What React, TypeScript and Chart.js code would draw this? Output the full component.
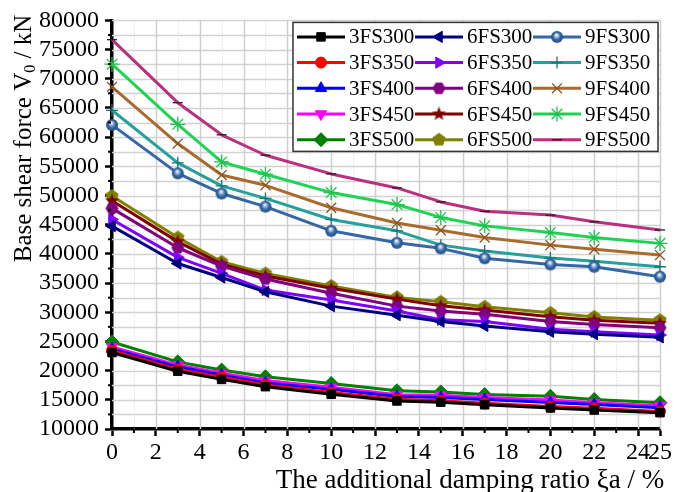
import React, { useEffect, useRef } from 'react';
import { Chart, registerables } from 'chart.js';
import { drawPoint } from 'chart.js/helpers';

Chart.register(...registerables);

const FONT = '"Liberation Serif", "Times New Roman", Times, serif';

const damping = [0, 3, 5, 7, 10, 13, 15, 17, 20, 22, 25];

const fs3_300 = [23100, 19900, 18500, 17250, 15950, 14800, 14600, 14150, 13600, 13250, 12800];
const fs3_350 = [23400, 20200, 18850, 17550, 16250, 15100, 14850, 14400, 13850, 13550, 13000];
const fs3_400 = [23700, 20650, 19250, 17900, 16800, 15550, 15400, 15050, 14550, 14200, 13650];
const fs3_450 = [24050, 20950, 19550, 18300, 17150, 15850, 15800, 15400, 14950, 14500, 14000];
const fs3_500 = [24900, 21500, 20100, 18950, 17800, 16550, 16350, 15900, 15600, 15050, 14500];

const fs6_300 = [44750, 38350, 35950, 33500, 31050, 29500, 28400, 27650, 26650, 26250, 25700];
const fs6_350 = [45900, 39400, 36650, 33800, 32100, 30200, 28700, 28400, 27100, 26650, 26100];
const fs6_400 = [47800, 41050, 37900, 35700, 33250, 31050, 30200, 29650, 28400, 27900, 27350];
const fs6_450 = [49100, 42100, 38250, 36200, 34100, 32250, 31100, 30400, 29250, 28650, 28100];
const fs6_500 = [49900, 42800, 38650, 36650, 34500, 32550, 31800, 30950, 29900, 29200, 28650];

const fs9_300 = [62100, 53800, 50350, 48100, 43950, 41900, 40950, 39250, 38200, 37800, 36100];
const fs9_350 = [64600, 55600, 51650, 49500, 45900, 43950, 41500, 40500, 39300, 38750, 37800];
const fs9_400 = [68600, 58900, 53500, 51750, 47900, 45300, 44050, 42800, 41500, 40800, 39800];
const fs9_450 = [72500, 62200, 55750, 53650, 50500, 48450, 46250, 44800, 43650, 42800, 41800];
const fs9_500 = [76700, 65900, 60400, 56900, 53700, 51300, 48900, 47300, 46650, 45500, 44100];

const seriesNames = [
  '3FS300', '3FS350', '3FS400', '3FS450', '3FS500',
  '6FS300', '6FS350', '6FS400', '6FS450', '6FS500',
  '9FS300', '9FS350', '9FS400', '9FS450', '9FS500',
];
const seriesValues = [
  fs3_300, fs3_350, fs3_400, fs3_450, fs3_500,
  fs6_300, fs6_350, fs6_400, fs6_450, fs6_500,
  fs9_300, fs9_350, fs9_400, fs9_450, fs9_500,
];
const seriesColors = [
  '#000000', '#ff0000', '#0000ff', '#ff00ff', '#008000',
  '#000080', '#8000ff', '#800080', '#800000', '#808000',
  '#3467a5', '#26a09a', '#a86b2d', '#1fd455', '#b8307e',
];

const xTitle = 'The additional damping ratio ξa / %';
const yTitleParts = ['Base shear force V', '0', ' / kN'];

const xTickLabels = (v: number) => (v % 2 === 0 || v === 25 ? String(v) : '');
const yTickLabels = (v: number) => (v % 5000 === 0 ? String(v) : '');

function makeCanvas(r: number) {
  const c = document.createElement('canvas');
  const s = Math.ceil(r * 2 + 2);
  c.width = s;
  c.height = s;
  return c;
}

function polygonMarker(n: number, r: number, color: string, rot: number) {
  const c = makeCanvas(r);
  const ctx = c.getContext('2d')!;
  const cx = c.width / 2;
  const cy = c.height / 2;
  ctx.beginPath();
  for (let i = 0; i < n; i++) {
    const a = rot + (i * 2 * Math.PI) / n;
    const x = cx + r * Math.cos(a);
    const y = cy + r * Math.sin(a);
    if (i === 0) ctx.moveTo(x, y);
    else ctx.lineTo(x, y);
  }
  ctx.closePath();
  ctx.fillStyle = color;
  ctx.fill();
  return c;
}

function starMarker(r: number, color: string) {
  const c = makeCanvas(r);
  const ctx = c.getContext('2d')!;
  const cx = c.width / 2;
  const cy = c.height / 2;
  ctx.beginPath();
  for (let i = 0; i < 10; i++) {
    const rr = i % 2 === 0 ? r : r * 0.42;
    const a = -Math.PI / 2 + (i * Math.PI) / 5;
    const x = cx + rr * Math.cos(a);
    const y = cy + rr * Math.sin(a);
    if (i === 0) ctx.moveTo(x, y);
    else ctx.lineTo(x, y);
  }
  ctx.closePath();
  ctx.fillStyle = color;
  ctx.fill();
  return c;
}

function sphereMarker(r: number, color: string) {
  const c = makeCanvas(r);
  const ctx = c.getContext('2d')!;
  const cx = c.width / 2;
  const cy = c.height / 2;
  const g = ctx.createRadialGradient(cx - r * 0.1, cy - r * 0.35, r * 0.05, cx, cy, r);
  g.addColorStop(0, '#ffffff');
  g.addColorStop(0.3, '#8fb0d8');
  g.addColorStop(0.6, color);
  g.addColorStop(1, '#234f85');
  ctx.beginPath();
  ctx.arc(cx, cy, r, 0, Math.PI * 2);
  ctx.fillStyle = g;
  ctx.fill();
  return c;
}

type Mk = { style: any; radius: number; rotation: number; border: string; borderWidth: number };

function markerFor(i: number): Mk {
  const col = seriesColors[i];
  switch (i) {
    case 0: return { style: 'rect', radius: 6, rotation: 0, border: col, borderWidth: 1 };
    case 1: return { style: 'circle', radius: 5.5, rotation: 0, border: col, borderWidth: 1 };
    case 2: return { style: 'triangle', radius: 6.5, rotation: 0, border: col, borderWidth: 1 };
    case 3: return { style: 'triangle', radius: 6.5, rotation: 180, border: col, borderWidth: 1 };
    case 4: return { style: 'rectRot', radius: 7, rotation: 0, border: col, borderWidth: 1 };
    case 5: return { style: 'triangle', radius: 6.5, rotation: -90, border: col, borderWidth: 1 };
    case 6: return { style: 'triangle', radius: 6.5, rotation: 90, border: col, borderWidth: 1 };
    case 7: return { style: polygonMarker(6, 6.5, col, 0), radius: 6.5, rotation: 0, border: col, borderWidth: 0 };
    case 8: return { style: starMarker(7.5, col), radius: 7.5, rotation: 0, border: col, borderWidth: 0 };
    case 9: return { style: polygonMarker(5, 7, col, -Math.PI / 2), radius: 7, rotation: 0, border: col, borderWidth: 0 };
    case 10: return { style: sphereMarker(6, col), radius: 6, rotation: 0, border: col, borderWidth: 0 };
    case 11: return { style: 'cross', radius: 6, rotation: 0, border: '#137a76', borderWidth: 1.3 };
    case 12: return { style: 'crossRot', radius: 7, rotation: 0, border: '#8c5420', borderWidth: 1.3 };
    case 13: return { style: 'star', radius: 7.5, rotation: 0, border: '#1fc34e', borderWidth: 1.3 };
    default: return { style: 'line', radius: 5, rotation: 0, border: '#222222', borderWidth: 1.3 };
  }
}

const gridPlugin = {
  id: 'customGrid',
  beforeDatasetsDraw(chart: any) {
    const { ctx, chartArea, scales } = chart;
    const xs = scales.x;
    const ys = scales.y;
    ctx.save();
    for (let v = 12500; v <= 80000; v += 2500) {
      const y = Math.round(ys.getPixelForValue(v)) + 0.5;
      ctx.beginPath();
      ctx.strokeStyle = '#d2d2d2';
      ctx.lineWidth = 1.5;
      ctx.setLineDash([]);
      ctx.moveTo(chartArea.left, y);
      ctx.lineTo(chartArea.right, y);
      ctx.stroke();
    }
    for (let v = 1; v <= 25; v++) {
      const x = Math.round(xs.getPixelForValue(v)) + 0.5;
      ctx.beginPath();
      if (v % 2 === 0 || v === 25) {
        ctx.strokeStyle = '#cfcfcf';
        ctx.lineWidth = 1.5;
        ctx.setLineDash([]);
      } else {
        ctx.strokeStyle = '#d4d4d4';
        ctx.lineWidth = 1;
        ctx.setLineDash([1, 2]);
      }
      ctx.moveTo(x, chartArea.top);
      ctx.lineTo(x, chartArea.bottom);
      ctx.stroke();
    }
    ctx.restore();
  },
};

const overlayPlugin = {
  id: 'overlay',
  afterDraw(chart: any) {
    const { ctx, chartArea, scales } = chart;
    const xs = scales.x;
    const ys = scales.y;
    ctx.save();
    ctx.strokeStyle = '#000';
    ctx.lineWidth = 2;
    ctx.setLineDash([]);
    for (let v = 1; v < 25; v += 2) {
      const x = xs.getPixelForValue(v);
      ctx.beginPath();
      ctx.moveTo(x, chartArea.bottom + 1);
      ctx.lineTo(x, chartArea.bottom + 4);
      ctx.stroke();
    }
    for (let v = 12500; v < 80000; v += 5000) {
      const y = ys.getPixelForValue(v);
      ctx.beginPath();
      ctx.moveTo(chartArea.left - 1, y);
      ctx.lineTo(chartArea.left - 4, y);
      ctx.stroke();
    }

    // axis titles
    ctx.fillStyle = '#000';
    ctx.font = `27px ${FONT}`;
    ctx.textAlign = 'center';
    ctx.textBaseline = 'alphabetic';
    ctx.fillText(xTitle, 470, 488);

    ctx.save();
    ctx.translate(31, 138.5);
    ctx.rotate(-Math.PI / 2);
    ctx.textAlign = 'left';
    const big = `25px ${FONT}`;
    const small = `16px ${FONT}`;
    ctx.font = big;
    const w1 = ctx.measureText(yTitleParts[0]).width;
    const w3 = ctx.measureText(yTitleParts[2]).width;
    ctx.font = small;
    const w2 = ctx.measureText(yTitleParts[1]).width;
    let sx = -(w1 + w2 + w3) / 2;
    ctx.font = big;
    ctx.fillText(yTitleParts[0], sx, 0);
    sx += w1;
    ctx.font = small;
    ctx.fillText(yTitleParts[1], sx, 4);
    sx += w2;
    ctx.font = big;
    ctx.fillText(yTitleParts[2], sx, 0);
    ctx.restore();

    // legend
    const boxL = chartArea.left + 181;
    const boxT = chartArea.top + 2;
    const boxR = chartArea.right - 2;
    const boxB = boxT + 129;
    ctx.fillStyle = '#ffffff';
    ctx.fillRect(boxL, boxT, boxR - boxL, boxB - boxT);
    ctx.strokeStyle = '#333333';
    ctx.lineWidth = 1.5;
    ctx.strokeRect(boxL, boxT, boxR - boxL, boxB - boxT);
    ctx.font = `21px ${FONT}`;
    ctx.textAlign = 'left';
    ctx.textBaseline = 'middle';
    for (let i = 0; i < seriesNames.length; i++) {
      const col = Math.floor(i / 5);
      const row = i % 5;
      const lx = boxL + 4 + col * 118;
      const ly = boxT + 14.5 + row * 25.7;
      ctx.beginPath();
      ctx.strokeStyle = seriesColors[i];
      ctx.lineWidth = 3;
      ctx.moveTo(lx, ly);
      ctx.lineTo(lx + 48, ly);
      ctx.stroke();
      const mk = markerFor(i);
      ctx.fillStyle = seriesColors[i];
      ctx.strokeStyle = mk.border;
      ctx.lineWidth = mk.borderWidth;
      drawPoint(ctx, { pointStyle: mk.style, rotation: mk.rotation, radius: mk.radius, borderWidth: mk.borderWidth } as any, lx + 24, ly);
      ctx.fillStyle = '#000';
      ctx.fillText(seriesNames[i], lx + 52, ly + 1);
    }
    ctx.restore();
  },
};

export default function App() {
  const ref = useRef<HTMLCanvasElement>(null);
  useEffect(() => {
    if (!ref.current) return;
    const datasets = seriesNames.map((name, i) => {
      const mk = markerFor(i);
      return {
        label: name,
        data: damping.map((x, j) => ({ x, y: seriesValues[i][j] })),
        borderColor: seriesColors[i],
        backgroundColor: seriesColors[i],
        borderWidth: 3,
        pointStyle: mk.style,
        pointRadius: mk.radius,
        pointRotation: mk.rotation,
        pointBackgroundColor: seriesColors[i],
        pointBorderColor: mk.border,
        pointBorderWidth: mk.borderWidth,
        tension: 0,
        borderJoinStyle: 'round' as const,
        clip: false as any,
      };
    });
    const chart = new Chart(ref.current, {
      type: 'line',
      data: { datasets },
      plugins: [gridPlugin, overlayPlugin],
      options: {
        animation: false,
        responsive: false,
        devicePixelRatio: 1,
        layout: { padding: { left: 0, right: 18, top: 20, bottom: 0 } },
        plugins: { legend: { display: false }, tooltip: { enabled: false } },
        scales: {
          x: {
            type: 'linear',
            min: 0,
            max: 25,
            afterFit: (s: any) => { s.height = 63; },
            afterBuildTicks: (s: any) => {
              const t = [];
              for (let v = 0; v <= 25; v++) t.push({ value: v });
              s.ticks = t;
            },
            ticks: {
              autoSkip: false,
              maxRotation: 0,
              color: '#000',
              font: { family: FONT, size: 24 },
              padding: 2,
              callback: (v: any) => xTickLabels(Number(v)),
            },
            grid: {
              drawOnChartArea: false,
              drawTicks: true,
              tickLength: 7,
              tickWidth: 2.5,
              tickColor: (c: any) => (c.tick && (c.tick.value % 2 === 0 || c.tick.value === 25) ? '#000' : 'rgba(0,0,0,0)'),
            },
            border: { display: true, color: '#000', width: 3.5 },
          },
          y: {
            type: 'linear',
            min: 10000,
            max: 80000,
            afterFit: (s: any) => { s.width = 112; },
            ticks: {
              stepSize: 5000,
              autoSkip: false,
              color: '#000',
              font: { family: FONT, size: 24 },
              padding: 6,
              callback: (v: any) => yTickLabels(Number(v)),
            },
            grid: {
              drawOnChartArea: false,
              drawTicks: true,
              tickLength: 7,
              tickWidth: 2.5,
              tickColor: '#000',
            },
            border: { display: true, color: '#000', width: 3.5 },
          },
        },
      },
    });
    return () => chart.destroy();
  }, []);
  return (
    <div style={{ position: 'fixed', left: 0, top: 0, width: 678, height: 492, background: '#fff' }}>
      <canvas ref={ref} width={678} height={492} />
    </div>
  );
}
